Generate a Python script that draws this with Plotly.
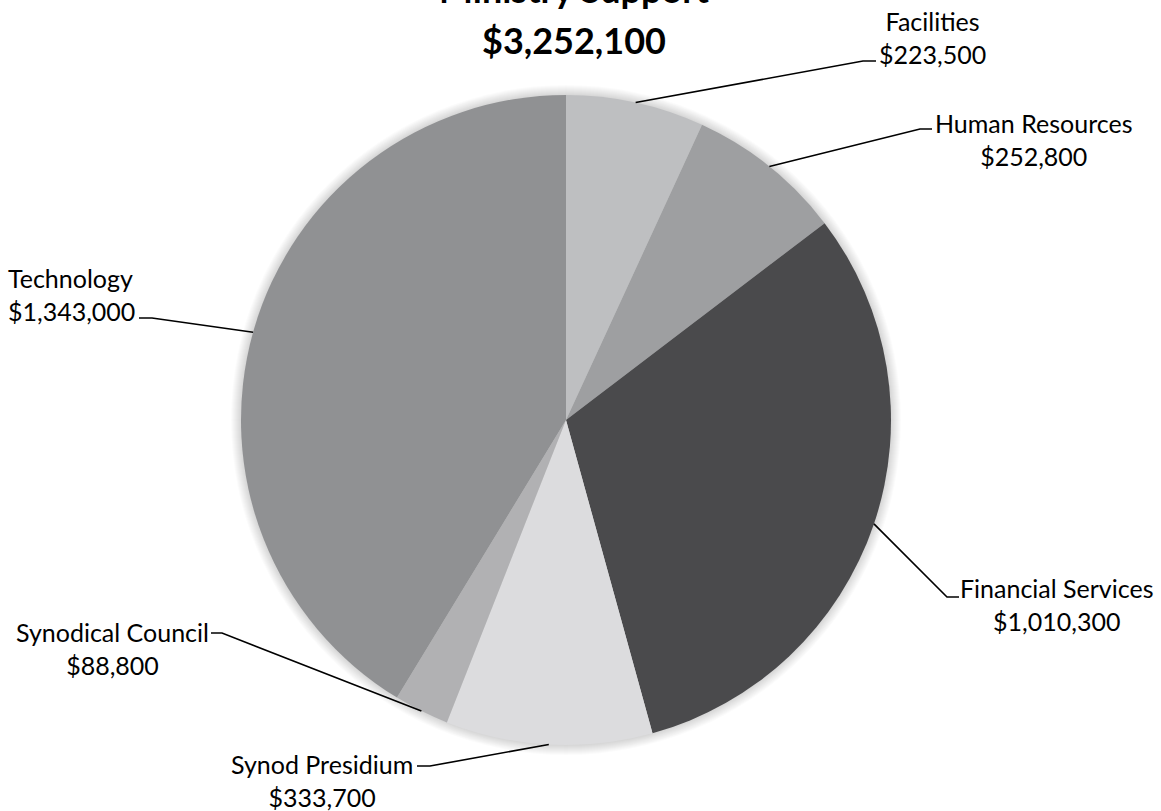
import math
import plotly.graph_objects as go

# ---- data ----
categories = ["Facilities", "Human Resources", "Financial Services",
              "Synod Presidium", "Synodical Council", "Technology"]
values = [223500, 252800, 1010300, 333700, 88800, 1343000]
title_line1 = "Ministry Support"
colors = ["#bebfc1", "#9e9fa1", "#4a4a4c", "#dcdcde", "#b1b1b3", "#909193"]

# ---- layout (pixel geometry) ----
W, H = 1161, 811
CX, CY, R = 566, 420, 325
FONT = "Lato"
LABEL_SIZE = 25

# label placement and leader elbow/end points (pixels)
label_pos = {
    "Facilities":         dict(x=932, y=38, xa="center", elbow=(863, 61), end=(876, 61)),
    "Human Resources":    dict(x=1033, y=139, xa="center", elbow=(920, 129), end=(932, 129)),
    "Financial Services": dict(x=1057, y=604, xa="center", elbow=(947, 597), end=(959, 597)),
    "Synod Presidium":    dict(x=322, y=780, xa="center", elbow=(430, 766), end=(417, 766)),
    "Synodical Council":  dict(x=112, y=648, xa="center", elbow=(222, 633), end=(211, 633)),
    "Technology":         dict(x=6, y=295, xa="left", elbow=(152, 318), end=(139, 318)),
}

def px(x):
    return x / W

def py(y):
    return 1 - y / H

total = sum(values)

fig = go.Figure(go.Pie(
    labels=categories,
    values=values,
    sort=False,
    direction="clockwise",
    rotation=0,
    marker=dict(colors=colors, line=dict(width=0)),
    textinfo="none",
    hoverinfo="label+value",
    showlegend=False,
    domain=dict(x=[px(CX - R), px(CX + R)], y=[py(CY + R), py(CY - R)]),
))

shapes = []
# soft shadow / glow around the pie
for i in range(1, 11):
    rr = R + i
    shapes.append(dict(
        type="circle", xref="paper", yref="paper", layer="below",
        x0=px(CX - rr), x1=px(CX + rr), y0=py(CY + rr), y1=py(CY - rr),
        fillcolor="rgba(0,0,0,0.015)", line=dict(width=0),
    ))

annotations = []
cum = 0
for cat, v in zip(categories, values):
    mid = (cum + v / 2) / total * 2 * math.pi
    cum += v
    sx = CX + R * math.sin(mid)
    sy = CY - R * math.cos(mid)
    lp = label_pos[cat]
    ex, ey = lp["elbow"]
    tx, ty = lp["end"]
    shapes.append(dict(
        type="path", xref="paper", yref="paper",
        path=f"M {px(sx)} {py(sy)} L {px(ex)} {py(ey)} L {px(tx)} {py(ty)}",
        line=dict(color="#000000", width=1.6),
    ))
    annotations.append(dict(
        x=px(lp["x"]), y=py(lp["y"]), xref="paper", yref="paper",
        text=f"{cat}<br>${v:,.0f}", showarrow=False,
        align="left" if lp["xa"] == "left" else "center",
        xanchor=lp["xa"], yanchor="middle",
        font=dict(family=FONT, size=LABEL_SIZE, color="#000000"),
    ))

# title (first line is partly cut off at the top, as in the original)
annotations.append(dict(
    x=px(574), y=py(-11), xref="paper", yref="paper", text=f"<b>{title_line1}</b>",
    showarrow=False, xanchor="center", yanchor="middle",
    font=dict(family=FONT, size=36, color="#000000"),
))
annotations.append(dict(
    x=px(574), y=py(40), xref="paper", yref="paper", text=f"<b>${total:,.0f}</b>",
    showarrow=False, xanchor="center", yanchor="middle",
    font=dict(family=FONT, size=36, color="#000000"),
))

fig.update_layout(
    width=W, height=H,
    margin=dict(l=0, r=0, t=0, b=0),
    paper_bgcolor="#ffffff", plot_bgcolor="#ffffff",
    shapes=shapes, annotations=annotations,
    font=dict(family=FONT),
)

fig.write_html("out.html", config={"displayModeBar": False},
               post_script="document.body.style.margin='0px';")
